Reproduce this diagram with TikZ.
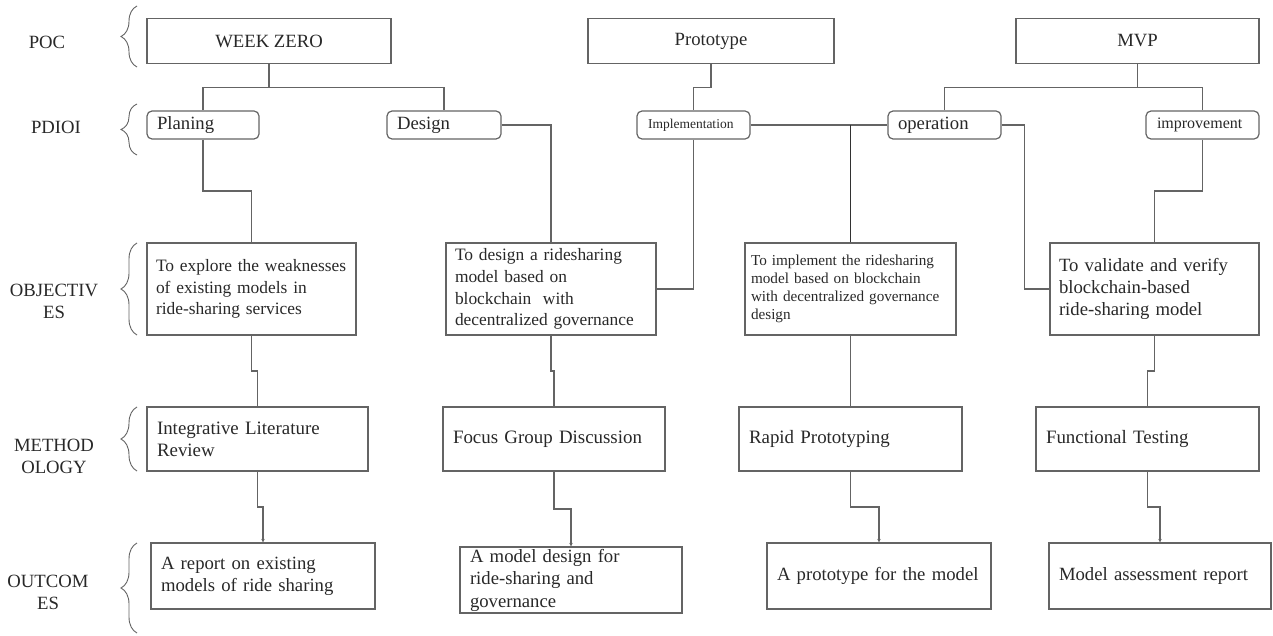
\documentclass[tikz,border=0pt]{standalone}
\usepackage{fontspec}
\setmainfont{Liberation Serif}
\usetikzlibrary{calc,arrows.meta,decorations.pathreplacing}
\definecolor{ink}{RGB}{40,40,40}
\definecolor{linegray}{RGB}{100,100,100}
\definecolor{darkline}{RGB}{50,50,50}

\tikzset{
  every node/.style={text=ink},
  basefont/.style={font=\fontsize{18.7}{22}\selectfont},
  stagebox/.style={draw=linegray, line width=1.2pt, basefont, minimum height=45pt, inner sep=0pt, align=center},
  phasebox/.style={draw=linegray, line width=1.2pt, rounded corners=5pt, basefont, minimum height=28pt, inner xsep=10pt, inner ysep=0pt, align=left},
  cellbox/.style={draw=linegray, line width=1.2pt, basefont, inner xsep=10pt, inner ysep=0pt, align=left},
  link/.style={draw=linegray, line width=1.2pt},
  arrowlink/.style={link, -{Stealth[length=3.5pt,width=3.5pt]}},
  rowlabel/.style={basefont, align=center},
  rowbrace/.style={draw=linegray, line width=0.9pt, decorate, decoration={brace, amplitude=16pt}}
}

\begin{document}
\begin{tikzpicture}[x=1pt,y=-1pt]
\useasboundingbox (0,0) rectangle (1273,636);

% row labels and their braces
\node[rowlabel] (lpoc)   at (47,42)  {POC};
\node[rowlabel] (lpdioi) at (56,127) {PDIOI};
\node[rowlabel] (lobj)   at (54,301) {OBJECTIV\\ES};
\node[rowlabel] (lmeth)  at (54,456) {METHOD\\OLOGY};
\node[rowlabel] (lout)   at (48,592) {OUTCOM\\ES};
\draw[rowbrace] (137,67)  -- (137,6);
\draw[rowbrace] (137,155) -- (137,104);
\draw[rowbrace] (137,335) -- (137,243);
\draw[rowbrace] (137,471) -- (137,407);
\draw[rowbrace] (137,633) -- (137,543);

% stages
\node[stagebox, minimum width=244pt] (wz)    at (269,41)    {WEEK ZERO};
\node[stagebox, minimum width=246pt] (proto) at (711,41)    {Prototype};
\node[stagebox, minimum width=243pt] (mvp)   at (1137.5,41) {MVP};

% phases
\node[phasebox, text width=92pt] (plan)   at (203,125)    {Planing};
\node[phasebox, text width=94pt] (design) at (444,125)    {Design};
\node[phasebox, text width=91pt, inner xsep=11pt, font=\fontsize{13.5}{16}\selectfont] (impl) at (693.5,125) {Implementation};
\node[phasebox, text width=93pt] (oper)   at (944.5,125)  {operation};
\node[phasebox, text width=91pt, inner xsep=11pt, font=\fontsize{16}{19}\selectfont] (impr) at (1202.5,125) {improvement};

% objectives
\node[cellbox, font=\fontsize{17.4}{21.5}\selectfont, inner xsep=9pt, text width=191pt, minimum height=92pt] (obj1) at (251.5,289)
  {To explore the weaknesses\\of existing models in\\ride-sharing services};
\node[cellbox, font=\fontsize{17.4}{21.7}\selectfont, inner xsep=9pt, text width=192pt, minimum height=92pt] (obj2) at (551,289)
  {To design a ridesharing\\model based on\\blockchain~ with\\decentralized governance};
\node[cellbox, font=\fontsize{15.2}{18}\selectfont, inner xsep=6pt, text width=199pt, minimum height=92pt] (obj3) at (850.5,289)
  {To implement the ridesharing\\model based on blockchain\\with decentralized governance\\design};
\node[cellbox, inner xsep=9pt, text width=191pt, minimum height=92pt] (obj4) at (1154.5,289)
  {To validate and verify\\blockchain-based\\ride-sharing model};

% methodology
\node[cellbox, font=\fontsize{18.9}{22}\selectfont, text width=201pt, minimum height=64pt] (meth1) at (257.5,439) {Integrative Literature\\Review};
\node[cellbox, font=\fontsize{18.9}{22}\selectfont, text width=202pt, minimum height=64pt] (meth2) at (554,439)   {Focus Group Discussion};
\node[cellbox, font=\fontsize{18.9}{22}\selectfont, text width=203pt, minimum height=64pt] (meth3) at (850.5,439) {Rapid Prototyping};
\node[cellbox, font=\fontsize{18.9}{22}\selectfont, text width=203pt, minimum height=64pt] (meth4) at (1147.5,439) {Functional Testing};

% outcomes
\node[cellbox, text width=204pt, minimum height=66pt] (out1) at (263,576)  {A report on existing\\models of ride sharing};
\node[cellbox, text width=202pt, minimum height=66pt, font=\fontsize{18.7}{22.5}\selectfont] (out2) at (571,580) {A model design for\\ride-sharing and\\governance};
\node[cellbox, text width=204pt, minimum height=66pt] (out3) at (879,576)  {A prototype for the model};
\node[cellbox, text width=202pt, minimum height=66pt] (out4) at (1160,576) {Model assessment report};

% stage to phase links
\coordinate (wzbus)  at ($(wz.south)!0.5!(plan.north)$);
\coordinate (mvpbus) at ($(mvp.south)!0.5!(oper.north)$);
\draw[link] (wz.south) -- (wz.south |- wzbus);
\draw[link] (plan.north) -- (plan.north |- wzbus) -- (design.north |- wzbus) -- (design.north);
\draw[link] (proto.south) |- ($(proto.south)!0.5!(impl.north)$) -| (impl.north);
\draw[link] (mvp.south) -- (mvp.south |- mvpbus);
\draw[link] (oper.north) -- (oper.north |- mvpbus) -- (impr.north |- mvpbus) -- (impr.north);

% phase to objective links
\draw[link] (plan.south) |- ($(plan.south)!0.5!(obj1.north)$) -| (obj1.north);
\draw[link] (design.east) -| (obj2.north);
\draw[link] (impl.south) |- (obj2.east);
\draw[link] (impl.east) -- (oper.west);
\draw[link, draw=darkline, line width=1.4pt] (obj3.north) -- (obj3.north |- impl.east);
\draw[link] (oper.east) -- ++(23,0) |- (obj4.west);
\draw[link] (impr.south) |- ($(impr.south)!0.5!(obj4.north)$) -| (obj4.north);

% objective to methodology, methodology to outcome
\foreach \a/\b in {obj1/meth1, obj2/meth2, obj3/meth3, obj4/meth4}
  \draw[link] (\a.south) |- ($(\a.south)!0.5!(\b.north)$) -| (\b.north);
\foreach \a/\b in {meth1/out1, meth2/out2, meth3/out3, meth4/out4}
  \draw[arrowlink] (\a.south) |- ($(\a.south)!0.5!(\b.north)$) -| (\b.north);
\end{tikzpicture}
\end{document}
